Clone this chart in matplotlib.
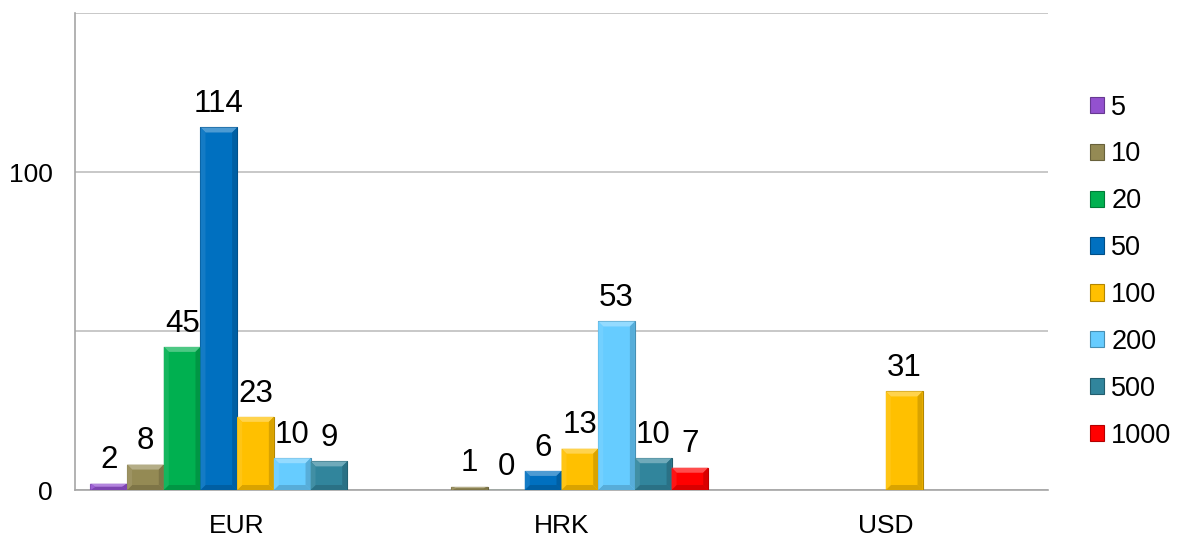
import numpy as np
import matplotlib.pyplot as plt
from matplotlib.patches import Polygon
from matplotlib.colors import to_rgb

plt.rcParams['font.family'] = ['Liberation Sans', 'DejaVu Sans']

categories = ['EUR', 'HRK', 'USD']
series = ['5', '10', '20', '50', '100', '200', '500', '1000']
# values per series for EUR, HRK, USD (nan = no bar)
v5 = [2, np.nan, np.nan]
v10 = [8, 1, np.nan]
v20 = [45, 0, np.nan]
v50 = [114, 6, np.nan]
v100 = [23, 13, 31]
v200 = [10, 53, np.nan]
v500 = [9, 10, np.nan]
v1000 = [np.nan, 7, np.nan]
ytick_vals = [0, 50, 100, 150]
ytick_labels = ['0', '', '100', '']

values = [v5, v10, v20, v50, v100, v200, v500, v1000]
colors = ['#9351CF', '#948A54', '#00B050', '#0070C0', '#FFC000', '#66CCFF', '#31859C', '#FF0000']

W, H = 11.8, 5.37
fig = plt.figure(figsize=(W, H), dpi=100)
ax = fig.add_axes([75 / 1180, 47 / 537, 973 / 1180, 477 / 537])

x = np.arange(len(categories))
n = len(series)
bw = 0.905 / n
ax.set_xlim(-0.5, len(categories) - 0.5)
ax.set_ylim(0, 150)

ax_w_px = 973
ax_h_px = 477
px_x = 1.0 / ax_w_px * len(categories)
px_y = 150.0 / ax_h_px


def shade(c, f):
    r, g, b = to_rgb(c)
    if f > 0:
        return (r + (1 - r) * f, g + (1 - g) * f, b + (1 - b) * f)
    return (r * (1 + f), g * (1 + f), b * (1 + f))


for i, (name, vals, col) in enumerate(zip(series, values, colors)):
    pos = x + (i - (n - 1) / 2) * bw
    bars = ax.bar(pos, vals, bw, color=col, edgecolor=shade(col, -0.3),
                  linewidth=0.8, label=name, zorder=3)
    for rect, v in zip(bars.patches, vals):
        if np.isnan(v):
            continue
        x0, y0 = rect.get_x(), rect.get_y()
        w, h = rect.get_width(), rect.get_height()
        ax.annotate(f'{int(v)}', (x0 + w / 2, y0 + h), xytext=(0, 6),
                    textcoords='offset points', ha='center', va='bottom',
                    fontsize=22.5, zorder=5)
        if h <= 0:
            continue
        bx = 5 * px_x
        by = min(5 * px_y, h / 2)
        x1, y1 = x0 + w, y0 + h
        facets = [
            ([(x0, y1), (x1, y1), (x1 - bx, y1 - by), (x0 + bx, y1 - by)], 0.3),
            ([(x0, y0), (x1, y0), (x1 - bx, y0 + by), (x0 + bx, y0 + by)], -0.15),
            ([(x0, y0), (x0, y1), (x0 + bx, y1 - by), (x0 + bx, y0 + by)], 0.08),
            ([(x1, y0), (x1, y1), (x1 - bx, y1 - by), (x1 - bx, y0 + by)], -0.15),
        ]
        for pts, f in facets:
            ax.add_patch(Polygon(pts, closed=True, facecolor=shade(col, f),
                                 edgecolor='none', zorder=4))

ax.set_yticks(ytick_vals)
ax.set_yticklabels(ytick_labels, fontsize=19)
ax.set_xticks(x)
ax.set_xticklabels(categories, fontsize=19)
ax.tick_params(axis='x', length=0, pad=17)
ax.tick_params(axis='y', length=0, pad=16)
ax.grid(axis='y', color='#BFBFBF', linewidth=1.2, zorder=0)
for s in ['top', 'right']:
    ax.spines[s].set_visible(False)
for s in ['left', 'bottom']:
    ax.spines[s].set_color('#A6A6A6')
    ax.spines[s].set_linewidth(1.2)

fig.legend(loc='upper left', bbox_to_anchor=(1076 / 1180, 1 - 81 / 537),
           frameon=False, fontsize=19.5, handlelength=0.55, handleheight=0.55,
           handletextpad=0.25, labelspacing=0.77, borderpad=0)

fig.savefig('out.png', dpi=100)
